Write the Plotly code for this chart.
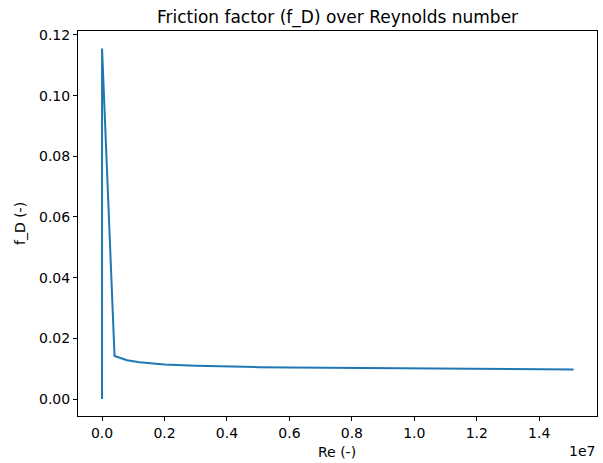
import plotly.graph_objects as go

# Data (Reynolds number, Darcy friction factor)
reynolds = [0, 550, 4.0e5, 8.0e5, 1.2e6, 1.6e6, 2.0e6, 3.0e6, 4.0e6, 5.0e6,
            6.0e6, 8.0e6, 1.0e7, 1.2e7, 1.4e7, 1.51e7]
friction = [0.0, 0.1155, 0.0142, 0.0128, 0.0121, 0.0117, 0.0114, 0.0110, 0.0107, 0.0105,
            0.0104, 0.0102, 0.0100, 0.0099, 0.0098, 0.0097]

x_tick_vals = [0, 2e6, 4e6, 6e6, 8e6, 1e7, 1.2e7, 1.4e7]
x_tick_text = ["0.0", "0.2", "0.4", "0.6", "0.8", "1.0", "1.2", "1.4"]
y_tick_vals = [0.0, 0.02, 0.04, 0.06, 0.08, 0.10, 0.12]
y_tick_text = ["0.00", "0.02", "0.04", "0.06", "0.08", "0.10", "0.12"]

font = "DejaVu Sans"
L, R, T, B = 78, 597, 31, 416
W, H = 603, 463

fig = go.Figure()
fig.add_trace(go.Scatter(x=reynolds, y=friction, mode="lines",
                         line=dict(color="#1f77b4", width=2), showlegend=False))

fig.update_layout(
    width=W, height=H,
    margin=dict(l=L, r=W - R, t=T, b=H - B),
    paper_bgcolor="white", plot_bgcolor="white",
    font=dict(family=font, size=14, color="black"),
    title=dict(text="Friction factor (f_D) over Reynolds number",
               x=(L + R) / 2 / W, xanchor="center", y=1 - 17 / H, yanchor="middle",
               font=dict(family=font, size=17, color="black")),
)
fig.update_xaxes(range=[-0.77e6, 15.85e6], tickvals=x_tick_vals, ticktext=x_tick_text,
                 showgrid=False, zeroline=False, showline=True, linecolor="black", linewidth=1,
                 mirror=True, ticks="outside", ticklen=4, tickcolor="black",
                 tickfont=dict(family=font, size=14))
fig.update_yaxes(range=[-0.0056, 0.1213], tickvals=y_tick_vals, ticktext=y_tick_text,
                 showgrid=False, zeroline=False, showline=True, linecolor="black", linewidth=1,
                 mirror=True, ticks="outside", ticklen=4, tickcolor="black",
                 tickfont=dict(family=font, size=14))
fig.add_annotation(text="Re (-)", xref="paper", yref="paper", x=(337 - L) / (R - L),
                   y=(B - 452) / (B - T), xanchor="center", yanchor="middle", showarrow=False,
                   font=dict(family=font, size=14, color="black"))
fig.add_annotation(text="f_D (-)", xref="paper", yref="paper", x=(20 - L) / (R - L),
                   y=(B - 224) / (B - T), xanchor="center", yanchor="middle", textangle=-90,
                   showarrow=False, font=dict(family=font, size=14, color="black"))
fig.add_annotation(text="1e7", xref="paper", yref="paper", x=1.0, y=(B - 451) / (B - T),
                   xanchor="right", yanchor="middle", showarrow=False,
                   font=dict(family=font, size=14, color="black"))

fig.write_html("out.html")
